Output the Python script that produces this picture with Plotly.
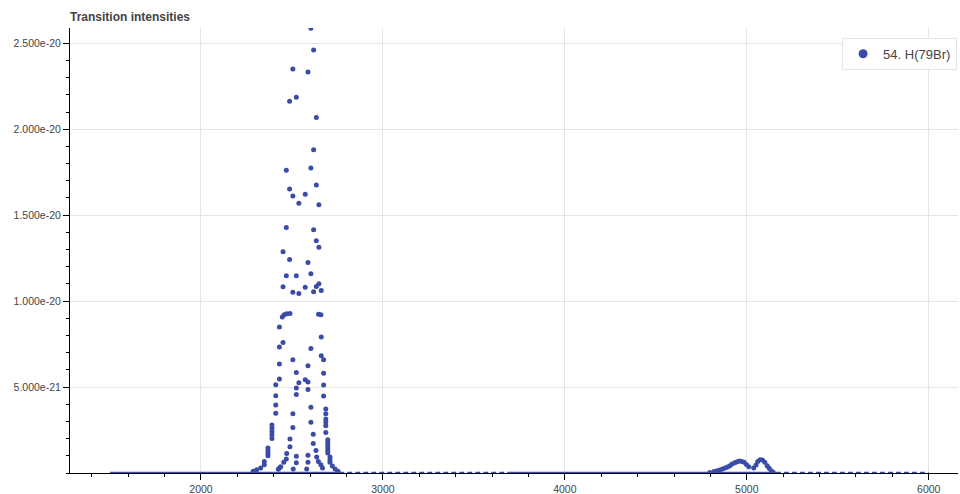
import plotly.graph_objects as go

COLOR = "#3b4ca6"
SERIES_NAME = "54. H(79Br)"

# Fundamental band (wavenumber cm-1, intensity in units of 1e-21)
FUND_X = [
    2287, 2306, 2328, 2348, 2348,
    2368, 2368, 2368, 2368,
    2390, 2390, 2390, 2390, 2390,
    2411, 2411, 2411, 2411,
    2425,
    2431, 2431, 2431, 2431, 2431,
    2438, 2447,
    2451, 2451, 2451, 2455, 2457,
    2469, 2469, 2469, 2469, 2471, 2471,
    2487, 2487, 2487, 2489, 2489, 2489,
    2505, 2505, 2505, 2505, 2505, 2505, 2507,
    2524, 2524, 2524, 2524, 2524, 2524, 2524,
    2538, 2538, 2538,
    2573, 2573, 2573, 2581,
    2588, 2588, 2588, 2588, 2588, 2588, 2588,
    2604, 2604, 2604, 2604, 2604, 2604,
    2617, 2617,
    2619, 2619, 2619, 2619,
    2632, 2634, 2634, 2634, 2634, 2636,
    2645, 2646, 2648, 2648, 2648,
    2659, 2659, 2661, 2661, 2661, 2668,
    2674, 2674, 2674, 2674,
    2686, 2686, 2686, 2686, 2686, 2686,
    2697, 2697, 2697, 2697, 2697, 2697,
    2709, 2709, 2709, 2722, 2737, 2753,
]
FUND_Y = [
    0.10, 0.19, 0.29, 0.67, 0.48,
    1.45, 1.30, 1.15, 1.00,
    2.79, 2.62, 2.42, 2.23, 2.01,
    5.13, 4.49, 3.95, 3.47,
    0.22,
    8.49, 7.33, 6.34, 5.47, 0.29,
    0.36, 9.07,
    12.87, 10.83, 7.59, 0.62, 9.20,
    17.62, 14.28, 11.47, 0.81, 9.26, 1.13,
    21.63, 16.53, 12.42, 9.28, 1.98, 1.53,
    23.50, 16.12, 10.52, 6.59, 3.45, 2.65, 0.23,
    21.86, 11.47, 5.85, 4.94, 4.57, 0.97, 0.60,
    15.70, 10.44, 5.25,
    16.22, 10.81, 5.42, 0.23,
    23.33, 12.24, 6.24, 5.29, 4.86, 1.03, 0.62,
    25.87, 17.75, 11.59, 7.24, 3.82, 2.95,
    2.25, 1.72,
    24.61, 18.80, 14.15, 10.54,
    1.31, 20.68, 16.76, 13.51, 10.85, 0.93,
    0.67, 9.24, 15.60, 13.14, 11.01,
    9.20, 0.48, 10.62, 7.91, 6.82, 0.29,
    6.59, 5.81, 5.12, 4.48,
    3.72, 3.45, 3.14, 2.97, 2.75, 2.36,
    1.94, 1.78, 1.63, 1.47, 1.31, 1.16,
    0.93, 0.77, 0.62, 0.40, 0.23, 0.10,
]

# First overtone band (wavenumber cm-1, intensity in units of 1e-22)
OVER_X = [4797, 4820, 4837, 4852, 4866, 4881, 4894, 4907, 4919, 4934, 4947,
          4960, 4973, 4985, 4998, 5011, 5038, 5051, 5060, 5073, 5086, 5099,
          5112, 5123, 5134, 5145]
OVER_Y = [0.3, 0.8, 1.3, 1.7, 2.3, 2.9, 3.5, 4.2, 5.2, 6.0, 6.6,
          7.0, 6.7, 6.2, 5.0, 3.7, 2.9, 4.7, 6.7, 7.7, 7.6, 6.2,
          4.2, 2.7, 1.3, 0.5]

# Zero-intensity runs of lines (start, end wavenumber)
BASELINE_SOLID = [(1500, 2760), (3700, 5160)]
BASELINE_DASHED = [(2760, 3700), (5160, 6000)]

X_TICKS = [2000, 3000, 4000, 5000, 6000]
X_TICK_TEXT = ["2000", "3000", "4000", "5000", "6000"]
Y_TICKS = [5e-21, 1e-20, 1.5e-20, 2e-20, 2.5e-20]
Y_TICK_TEXT = ["5.000e-21", "1.000e-20", "1.500e-20", "2.000e-20", "2.500e-20"]

xs = FUND_X + OVER_X
ys = [v * 1e-21 for v in FUND_Y] + [v * 1e-22 for v in OVER_Y]

fig = go.Figure()
for x0, x1 in BASELINE_SOLID:
    fig.add_trace(go.Scatter(x=[x0, x1], y=[0, 0], mode="lines",
                             line=dict(color=COLOR, width=2.6),
                             showlegend=False, hoverinfo="skip"))
for x0, x1 in BASELINE_DASHED:
    fig.add_trace(go.Scatter(x=[x0, x1], y=[0, 0], mode="lines",
                             line=dict(color=COLOR, width=2.6, dash="5px,3px"),
                             showlegend=False, hoverinfo="skip"))
fig.add_trace(go.Scatter(x=xs, y=ys, mode="markers",
                         marker=dict(size=5, color=COLOR),
                         name=SERIES_NAME, showlegend=False))
fig.add_trace(go.Scatter(x=[None], y=[None], mode="markers",
                         marker=dict(size=9, color=COLOR),
                         name=SERIES_NAME, showlegend=True))

FONT = "Liberation Sans, Arial, sans-serif"
fig.update_layout(
    width=960, height=494,
    margin=dict(l=70, r=2, t=28, b=21, autoexpand=False),
    paper_bgcolor="white", plot_bgcolor="white",
    font=dict(family=FONT, color="#444"),
    title=dict(text="<b>Transition intensities</b>", x=70 / 960, xanchor="left",
               y=1 - 17 / 494, yanchor="middle",
               font=dict(size=12, color="#444", family=FONT)),
    legend=dict(x=0.999, xanchor="right", y=0.978, yanchor="top",
                bgcolor="white", bordercolor="#e5e5e5", borderwidth=1,
                font=dict(size=13, color="#444")),
    showlegend=True,
)
fig.update_xaxes(
    range=[1280, 6161], tickmode="array", tickvals=X_TICKS, ticktext=X_TICK_TEXT,
    ticks="outside", ticklen=6, tickcolor="black", showline=True, linecolor="black",
    linewidth=1, showgrid=True, gridcolor="#e5e5e5", zeroline=False, automargin=False,
    tickfont=dict(size=10.5, color="#444"),
    minor=dict(tickmode="linear", tick0=0, dtick=200, ticks="outside",
               ticklen=3, tickcolor="black", showgrid=False),
)
fig.update_yaxes(
    range=[0, 2.589e-20], tickmode="array", tickvals=Y_TICKS, ticktext=Y_TICK_TEXT,
    ticks="outside", ticklen=6, tickcolor="black", showline=True, linecolor="black",
    linewidth=1, showgrid=True, gridcolor="#e5e5e5", zeroline=False, automargin=False,
    tickfont=dict(size=10.5, color="#444"),
    minor=dict(tickmode="linear", tick0=0, dtick=1e-21, ticks="outside",
               ticklen=3, tickcolor="black", showgrid=False),
)

fig.write_html("out.html")
